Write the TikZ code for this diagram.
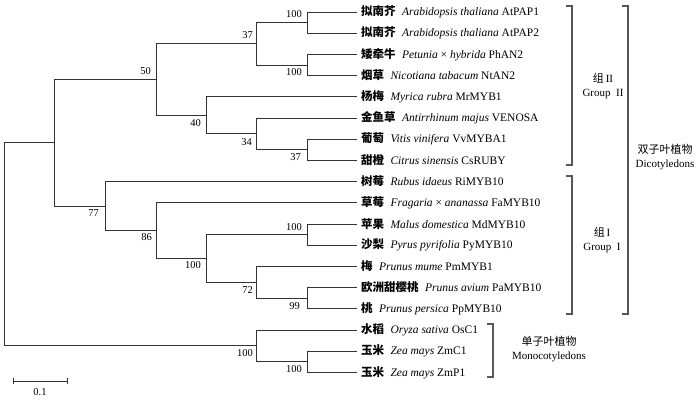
\documentclass[tikz,border=0pt]{standalone}
\usepackage{fontspec}
\setmainfont{Liberation Serif}
\newfontfamily\cjk{Noto Sans CJK SC}
\begin{document}
\begin{tikzpicture}[x=1pt,y=-1pt,
  br/.style={draw=black!80, line width=0.85pt},
  grp/.style={draw=black!65, line width=1.1pt},
  leaf/.style={anchor=west, inner sep=0pt, font=\fontsize{11.5}{12}\selectfont},
  boot/.style={anchor=east, inner sep=0pt, font=\fontsize{10.5}{12}\selectfont},
  glab/.style={align=center, inner sep=0pt, font=\fontsize{11}{13}\selectfont}]
\useasboundingbox (0,0) rectangle (700,402);
% leaves
\foreach \i/\y in {1/12,2/33.2,3/54.4,4/75.6,5/96.8,6/118,7/139.2,8/160.4,9/181.6,10/202.8,11/224,12/245.2,13/266.4,14/287.6,15/308.8,16/330,17/351.2,18/372.4}
  \coordinate (L\i) at (357,\y);
% leaf labels
\newcommand{\lf}[4]{\node[leaf] (T#1) at (361,#2) {{\cjk\bfseries #3}\hspace{0.55em}#4};}
\lf{1}{12}{拟南芥}{\textit{Arabidopsis thaliana} AtPAP1}
\lf{2}{33.2}{拟南芥}{\textit{Arabidopsis thaliana} AtPAP2}
\lf{3}{54.4}{矮牵牛}{\textit{Petunia} × \textit{hybrida} PhAN2}
\lf{4}{75.6}{烟草}{\textit{Nicotiana tabacum} NtAN2}
\lf{5}{96.8}{杨梅}{\textit{Myrica rubra} MrMYB1}
\lf{6}{118}{金鱼草}{\textit{Antirrhinum majus} VENOSA}
\lf{7}{139.2}{葡萄}{\textit{Vitis vinifera} VvMYBA1}
\lf{8}{160.4}{甜橙}{\textit{Citrus sinensis} CsRUBY}
\lf{9}{181.6}{树莓}{\textit{Rubus idaeus} RiMYB10}
\lf{10}{202.8}{草莓}{\textit{Fragaria} × \textit{ananassa} FaMYB10}
\lf{11}{224}{苹果}{\textit{Malus domestica} MdMYB10}
\lf{12}{245.2}{沙梨}{\textit{Pyrus pyrifolia} PyMYB10}
\lf{13}{266.4}{梅}{\textit{Prunus mume} PmMYB1}
\lf{14}{287.6}{欧洲甜樱桃}{\textit{Prunus avium} PaMYB10}
\lf{15}{308.8}{桃}{\textit{Prunus persica} PpMYB10}
\lf{16}{330}{水稻}{\textit{Oryza sativa} OsC1}
\lf{17}{351.2}{玉米}{\textit{Zea mays} ZmC1}
\lf{18}{372.4}{玉米}{\textit{Zea mays} ZmP1}
% internal nodes
\coordinate (a) at (307,22.6);
\coordinate (b) at (307,65);
\coordinate (c) at (256,43.8);
\coordinate (d) at (307,149.8);
\coordinate (e) at (256,133.9);
\coordinate (f) at (206,115.35);
\coordinate (g) at (156,79.6);
\coordinate (h) at (307,234.6);
\coordinate (i) at (307,298.2);
\coordinate (j) at (256,282.3);
\coordinate (k) at (206,258.45);
\coordinate (l) at (156,230.6);
\coordinate (m) at (105,206.1);
\coordinate (n) at (54,142.85);
\coordinate (o) at (307,361.8);
\coordinate (p) at (256,345.9);
\coordinate (r) at (4,244.4);
% branches
\foreach \pn/\ca/\cb in {a/L1/L2, b/L3/L4, c/a/b, d/L7/L8, e/L6/d, f/L5/e, g/c/f,
  h/L11/L12, i/L14/L15, j/L13/i, k/h/j, l/L10/k, m/L9/l, n/g/m,
  o/L17/L18, p/L16/o, r/n/p}
  { \draw[br] (\pn) |- (\ca); \draw[br] (\pn) |- (\cb); }
% bootstrap values
\node[boot] (B1) at (302,14) {100};
\node[boot] (B2) at (253,35) {37};
\node[boot] (B3) at (302,72) {100};
\node[boot] (B4) at (151,71) {50};
\node[boot] (B5) at (201,123) {40};
\node[boot] (B6) at (252,142) {34};
\node[boot] (B7) at (301,157) {37};
\node[boot] (B8) at (99,213) {77};
\node[boot] (B9) at (152,237) {86};
\node[boot] (B10) at (201,265) {100};
\node[boot] (B11) at (302,227) {100};
\node[boot] (B12) at (253,290) {72};
\node[boot] (B13) at (300,306) {99};
\node[boot] (B14) at (253,353) {100};
\node[boot] (B15) at (302,369) {100};
% brackets
\draw[grp] (566,6) -- (572,6) -- (572,165) -- (566,165);
\draw[grp] (566,176) -- (572,176) -- (572,314) -- (566,314);
\draw[grp] (622,6) -- (628,6) -- (628,314) -- (622,314);
\draw[grp] (487,324) -- (493,324) -- (493,377) -- (487,377);
\node[glab] (G2) at (603,86) {{\cjk 组}\,II\\[1pt]Group~~II};
\node[glab] (G1) at (602,240) {{\cjk 组}\,I\\[1pt]Group~~I};
\node[glab] (GD) at (665,157) {{\cjk 双子叶植物}\\[1pt]Dicotyledons};
\node[glab] (GM) at (549,349) {{\cjk 单子叶植物}\\[1pt]Monocotyledons};
% scale bar
\draw[br] (13,381) -- (67,381);
\draw[br] (13,378) -- (13,384);
\draw[br] (67,378) -- (67,384);
\node[inner sep=0pt, font=\fontsize{10.5}{12}\selectfont] (S) at (40,392) {0.1};
\end{tikzpicture}
\end{document}
